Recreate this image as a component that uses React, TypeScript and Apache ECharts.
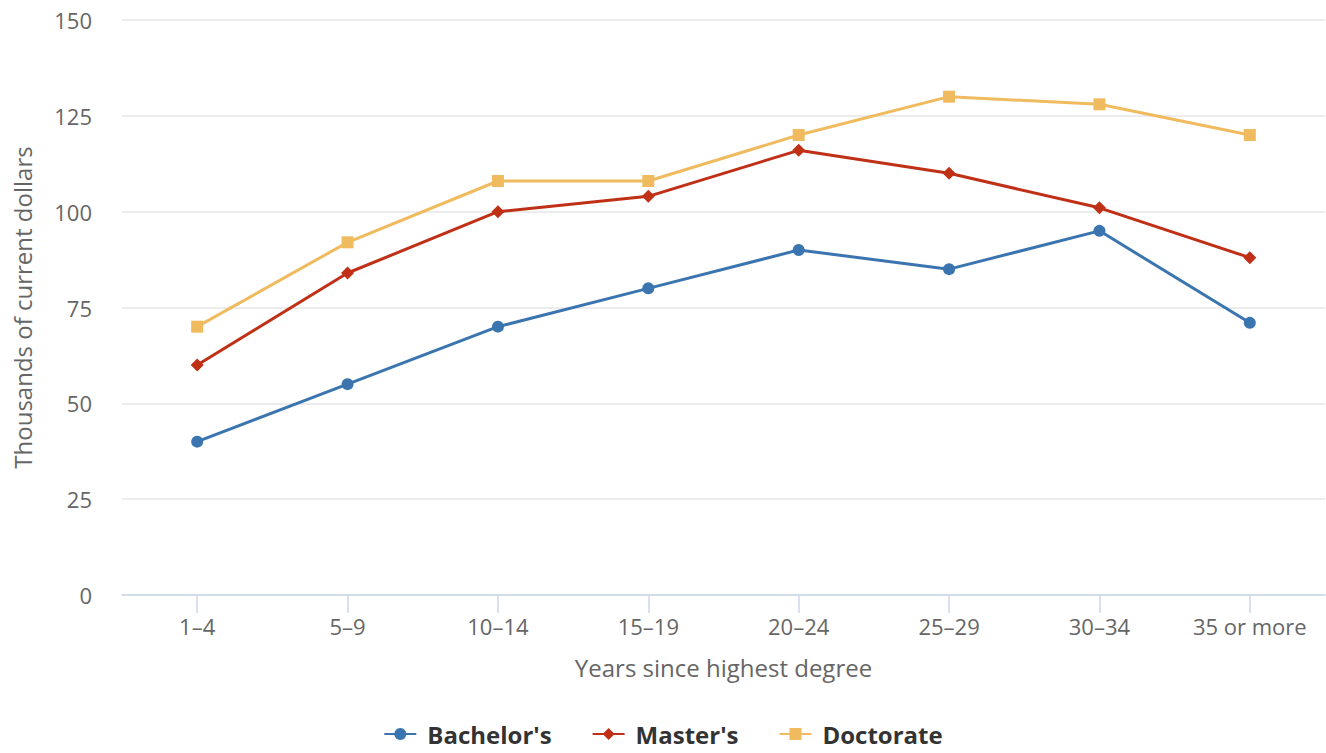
import React, { useEffect, useRef } from "react";
import * as echarts from "echarts";

const categories = ["1–4", "5–9", "10–14", "15–19", "20–24", "25–29", "30–34", "35 or more"];
const bachelors = [40, 55, 70, 80, 90, 85, 95, 71];
const masters = [60, 84, 100, 104, 116, 110, 101, 88];
const doctorate = [70, 92, 108, 108, 120, 130, 128, 120];

const FONT = "'Open Sans', 'Noto Sans', sans-serif";

export default function App() {
  const ref = useRef<HTMLDivElement>(null);
  useEffect(() => {
    if (!ref.current) return;
    const chart = echarts.init(ref.current, null, { renderer: "svg" });
    const mk = (name: string, data: number[], color: string, symbol: string, size: number) => ({
      name,
      type: "line",
      data,
      color,
      symbol,
      symbolSize: size,
      showSymbol: true,
      lineStyle: { width: 3, color },
      itemStyle: { color },
    });
    chart.setOption({
      animation: false,
      textStyle: { fontFamily: FONT },
      grid: { left: 122, right: 1, top: 20, bottom: 158, containLabel: false },
      legend: {
        bottom: 2,
        left: "center",
        itemWidth: 32,
        itemHeight: 15,
        itemGap: 40,
        textStyle: {
          fontFamily: FONT,
          fontSize: 24,
          fontWeight: "bold",
          color: "#333",
          padding: [0, 0, 0, 6],
        },
        data: ["Bachelor's", "Master's", "Doctorate"],
      },
      xAxis: {
        type: "category",
        data: categories,
        boundaryGap: true,
        name: "Years since highest degree",
        nameLocation: "middle",
        nameGap: 60,
        nameTextStyle: { fontFamily: FONT, fontSize: 24, color: "#666" },
        axisLine: { show: true, lineStyle: { color: "#ccd6eb", width: 1.5 } },
        axisTick: {
          show: true,
          alignWithLabel: true,
          length: 18,
          lineStyle: { color: "#ccd6eb", width: 1.5 },
        },
        axisLabel: { fontFamily: FONT, fontSize: 22, color: "#666", margin: 20 },
      },
      yAxis: {
        type: "value",
        min: 0,
        max: 150,
        interval: 25,
        name: "Thousands of current dollars",
        nameLocation: "middle",
        nameGap: 88,
        nameTextStyle: { fontFamily: FONT, fontSize: 24, color: "#666" },
        axisLine: { show: false },
        axisTick: { show: false },
        axisLabel: { fontFamily: FONT, fontSize: 22, color: "#666", margin: 30 },
        splitLine: { lineStyle: { color: "#e6e6e6", width: 1.5 } },
      },
      series: [
        mk("Bachelor's", bachelors, "#3b75b0", "circle", 12),
        mk("Master's", masters, "#bf3016", "diamond", 13),
        mk("Doctorate", doctorate, "#f0bb5e", "rect", 12),
      ],
    });
    return () => chart.dispose();
  }, []);
  return (
    <div
      ref={ref}
      style={{ position: "fixed", left: 0, top: 0, width: 1326, height: 753, background: "#fff" }}
    />
  );
}
